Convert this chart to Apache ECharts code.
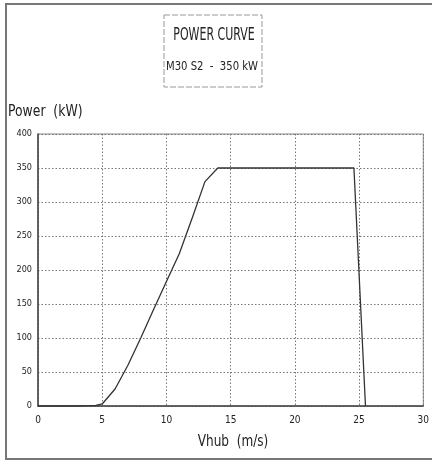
<!DOCTYPE html>
<html>
<head>
<meta charset="utf-8">
<script src="https://cdn.jsdelivr.net/npm/echarts@6/dist/echarts.min.js"></script>
<style>
html,body{margin:0;padding:0;background:#fff;}
#c{width:432px;height:462px;}
</style>
</head>
<body>
<div id="c"></div>
<script>
const windSpeed = [0, 3, 4, 4.5, 5, 6, 7, 8, 9, 10, 11, 12, 13, 14, 24.6, 25.5];
const powerKW   = [0, 0, 0.5, 1, 3, 25, 60, 100, 142, 183, 224, 276, 330, 350, 350, 0];
const xTicks = [0, 5, 10, 15, 20, 25, 30];
const yTicks = [0, 50, 100, 150, 200, 250, 300, 350, 400];
const titleLines = ['POWER CURVE', 'M30 S2  -  350 kW'];
const yAxisTitle = 'Power  (kW)';
const xAxisTitle = 'Vhub  (m/s)';

const chart = echarts.init(document.getElementById('c'), null, {renderer: 'canvas'});
const narrow = '"Liberation Sans Narrow", "DejaVu Sans Condensed", "Liberation Sans", sans-serif';

chart.setOption({
  backgroundColor: '#fff',
  animation: false,
  grid: {left: 38, right: 4, top: 134, bottom: 56, show: true, borderColor: '#888', borderWidth: 1},
  xAxis: {
    type: 'value', min: xTicks[0], max: xTicks[xTicks.length - 1], interval: 5,
    axisLine: {show: true, onZero: false, lineStyle: {color: '#444', width: 1.5}},
    axisTick: {show: false},
    axisLabel: {color: '#222', fontSize: 10, fontFamily: narrow, margin: 9},
    splitLine: {show: true, lineStyle: {color: '#777', type: [1.5, 2], width: 1}}
  },
  yAxis: {
    type: 'value', min: yTicks[0], max: yTicks[yTicks.length - 1], interval: 50,
    axisLine: {show: true, lineStyle: {color: '#444', width: 1.5}},
    axisTick: {show: false},
    axisLabel: {color: '#222', fontSize: 9, fontFamily: narrow, margin: 6},
    splitLine: {show: true, lineStyle: {color: '#777', type: [1.5, 2], width: 1}}
  },
  graphic: [
    {type: 'rect', shape: {x: 6, y: 4, width: 440, height: 455}, style: {fill: 'none', stroke: '#777', lineWidth: 2}},
    {type: 'rect', shape: {x: 164, y: 15, width: 98, height: 72}, style: {fill: 'none', stroke: '#999', lineWidth: 1, lineDash: [6, 2]}},
    {type: 'text', x: 214, y: 36, scaleX: 0.72, style: {text: titleLines[0], fill: '#222', font: '17px ' + narrow, textAlign: 'center', textVerticalAlign: 'middle'}},
    {type: 'text', x: 212, y: 67, scaleX: 0.86, style: {text: titleLines[1], fill: '#222', font: '13px ' + narrow, textAlign: 'center', textVerticalAlign: 'middle'}},
    {type: 'text', x: 8, y: 112, scaleX: 0.92, style: {text: yAxisTitle, fill: '#222', font: '15px ' + narrow, textVerticalAlign: 'middle'}},
    {type: 'text', x: 233, y: 442, scaleX: 0.84, style: {text: xAxisTitle, fill: '#222', font: '16px ' + narrow, textAlign: 'center', textVerticalAlign: 'middle'}}
  ],
  series: [{
    type: 'line',
    data: windSpeed.map((v, i) => [v, powerKW[i]]),
    showSymbol: false,
    smooth: false,
    lineStyle: {color: '#333', width: 1.3}
  }]
});
</script>
</body>
</html>
